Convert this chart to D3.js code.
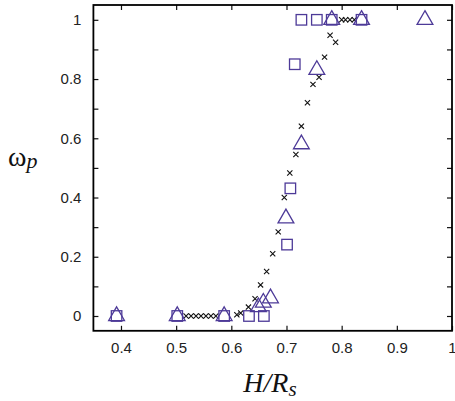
<!DOCTYPE html>
<html>
<head>
<meta charset="utf-8">
<script src="https://cdn.jsdelivr.net/npm/d3@7"></script>
<style>
  html, body { margin: 0; padding: 0; background: #fff; }
  svg { display: block; }
</style>
</head>
<body>
<svg id="chart" width="455" height="401"></svg>
<script>
// Square-marker series
const squareX = [0.392, 0.502, 0.587, 0.632, 0.659, 0.701, 0.707, 0.715, 0.727, 0.755, 0.782, 0.836];
const squareY = [0, 0, 0, 0, 0, 0.241, 0.431, 0.85, 1, 1, 1, 1];

// Triangle-marker series
const triX = [0.392, 0.502, 0.587, 0.649, 0.658, 0.671, 0.699, 0.727, 0.755, 0.782, 0.836, 0.951];
const triY = [0, 0, 0, 0.03, 0.045, 0.06, 0.33, 0.58, 0.831, 1, 1, 1];

// Cross-marker series
const crossX = [0.518, 0.527, 0.536, 0.545, 0.554, 0.563, 0.572,
                0.610, 0.617, 0.631, 0.643, 0.653, 0.664, 0.675, 0.685, 0.696, 0.706,
                0.717, 0.727, 0.738, 0.748, 0.759, 0.769, 0.779, 0.789,
                0.800, 0.807, 0.815, 0.823];
const crossY = [0, 0, 0, 0, 0, 0, 0,
                0.004, 0.01, 0.03, 0.058, 0.105, 0.15, 0.21, 0.284, 0.40, 0.483,
                0.545, 0.641, 0.72, 0.782, 0.806, 0.874, 0.948, 0.924,
                1, 1, 1, 1];

// Axis ticks
const xTicks = [0.4, 0.5, 0.6, 0.7, 0.8, 0.9, 1.0];
const xTickLabels = ["0.4", "0.5", "0.6", "0.7", "0.8", "0.9", "1"];
const yTicks = [0, 0.1, 0.2, 0.3, 0.4, 0.5, 0.6, 0.7, 0.8, 0.9, 1.0];
const yTickLabels = ["0", "", "0.2", "", "0.4", "", "0.6", "", "0.8", "", "1"];

const purple = "#4d3a98";
const svg = d3.select("#chart");

const plotL = 93.4, plotR = 452, plotT = 5, plotB = 330.8;
const x = d3.scaleLinear().domain([0.35, 1.0]).range([plotL, plotR]);
const y = d3.scaleLinear().domain([-0.05, 1.05]).range([plotB, plotT]);

const tickLen = 5;
const labelFont = "'Liberation Sans', Arial, Helvetica, sans-serif";

// Bottom axis (inward ticks)
const xAxisB = d3.axisBottom(x).tickValues(xTicks)
  .tickFormat((d, i) => xTickLabels[i]).tickSizeInner(-tickLen).tickSizeOuter(0).tickPadding(12);
const gxb = svg.append("g").attr("transform", `translate(0,${plotB})`).call(xAxisB);
// Top axis mirror
const xAxisT = d3.axisTop(x).tickValues(xTicks).tickFormat("").tickSizeInner(-tickLen).tickSizeOuter(0);
const gxt = svg.append("g").attr("transform", `translate(0,${plotT})`).call(xAxisT);
// Left axis
const yAxisL = d3.axisLeft(y).tickValues(yTicks)
  .tickFormat((d, i) => yTickLabels[i]).tickSizeInner(-tickLen).tickSizeOuter(0).tickPadding(12);
const gyl = svg.append("g").attr("transform", `translate(${plotL},0)`).call(yAxisL);
// Right axis mirror
const yAxisR = d3.axisRight(y).tickValues(yTicks).tickFormat("").tickSizeInner(-tickLen).tickSizeOuter(0);
const gyr = svg.append("g").attr("transform", `translate(${plotR},0)`).call(yAxisR);

[gxb, gxt, gyl, gyr].forEach(g => {
  g.select(".domain").remove();
  g.selectAll(".tick line").attr("stroke", "#111").attr("stroke-width", 1.2);
  g.selectAll(".tick text").attr("font-family", labelFont).attr("font-size", 15).attr("fill", "#222");
});

// Plot frame
svg.append("rect")
  .attr("x", plotL).attr("y", plotT)
  .attr("width", plotR - plotL).attr("height", plotB - plotT)
  .attr("fill", "none").attr("stroke", "#000").attr("stroke-width", 1.8);

// Crosses
const cs = 2.6;
const crosses = svg.append("g").attr("stroke", "#111").attr("stroke-width", 1.1);
crossX.forEach((cx, i) => {
  const px = x(cx), py = y(crossY[i]);
  crosses.append("path")
    .attr("d", `M${px - cs},${py - cs}L${px + cs},${py + cs}M${px - cs},${py + cs}L${px + cs},${py - cs}`);
});

// Squares
const sq = 10.5;
svg.append("g").selectAll("rect").data(squareX).join("rect")
  .attr("x", (d) => x(d) - sq / 2)
  .attr("y", (d, i) => y(squareY[i]) - sq / 2)
  .attr("width", sq).attr("height", sq)
  .attr("fill", "none").attr("stroke", purple).attr("stroke-width", 1.3);

// Triangles (centroid-centred)
const tri = d3.symbol(d3.symbolTriangle, 108);
svg.append("g").selectAll("path").data(triX).join("path")
  .attr("d", tri)
  .attr("transform", (d, i) => `translate(${x(d)},${y(triY[i])})`)
  .attr("fill", "none").attr("stroke", purple).attr("stroke-width", 1.3);

// Axis titles
const serif = "'Liberation Serif', 'Times New Roman', Times, serif";
const yl = svg.append("text").attr("x", 8).attr("y", 166)
  .attr("font-family", serif).attr("font-size", 28).attr("fill", "#111");
yl.append("tspan").text("ω");
yl.append("tspan").attr("font-style", "italic").attr("font-size", 22).attr("dy", 2).text("p");

const xl = svg.append("text").attr("x", 270).attr("y", 392)
  .attr("text-anchor", "middle")
  .attr("font-family", serif).attr("font-style", "italic").attr("font-size", 28).attr("fill", "#111");
xl.append("tspan").text("H/R");
xl.append("tspan").attr("font-size", 21).attr("dy", 4).text("s");
</script>
</body>
</html>
